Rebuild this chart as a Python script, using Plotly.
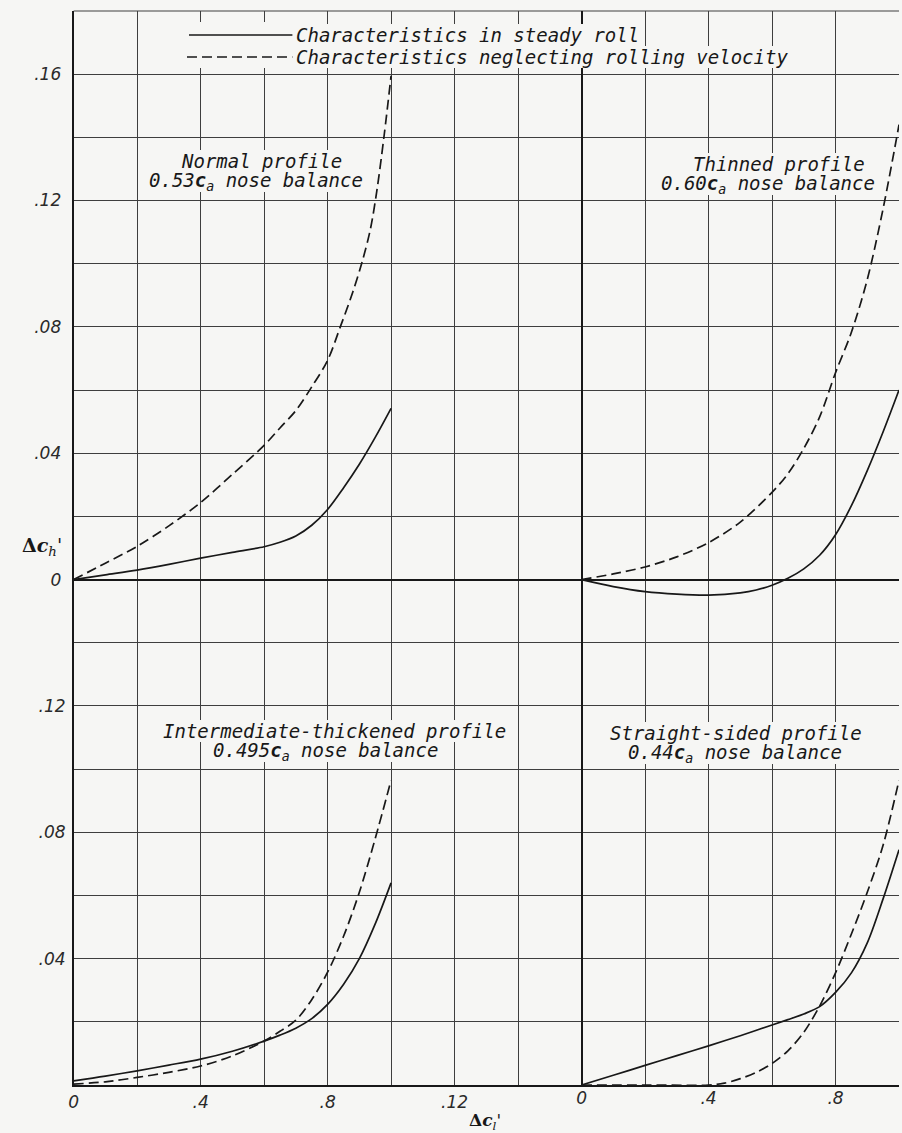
import plotly.graph_objects as go

# ---------------- data ----------------
# Normal profile, 0.53ca nose balance (upper left)
normal_roll_x = [0, 0.01, 0.02, 0.03, 0.04, 0.05, 0.06, 0.065, 0.07, 0.075, 0.08, 0.085, 0.09, 0.095, 0.10]
normal_roll_y = [0, 0.0015, 0.0030, 0.0048, 0.0068, 0.0086, 0.0104, 0.0118, 0.0138, 0.0172, 0.0222, 0.0290, 0.0365, 0.0450, 0.0542]
normal_norate_x = [0, 0.01, 0.02, 0.03, 0.04, 0.05, 0.06, 0.065, 0.07, 0.075, 0.08, 0.084, 0.088, 0.091, 0.0935, 0.0955, 0.0978, 0.10]
normal_norate_y = [0, 0.0052, 0.0105, 0.0170, 0.0244, 0.0333, 0.0425, 0.0480, 0.0535, 0.0610, 0.0694, 0.0800, 0.0912, 0.1010, 0.1110, 0.1230, 0.1405, 0.1595]

# Thinned profile, 0.60ca nose balance (upper right)
thinned_roll_x = [0, 0.01, 0.02, 0.03, 0.04, 0.05, 0.055, 0.06, 0.065, 0.07, 0.075, 0.08, 0.085, 0.09, 0.095, 0.10]
thinned_roll_y = [0, -0.0022, -0.0038, -0.0046, -0.0049, -0.0042, -0.0033, -0.0018, 0.0004, 0.0034, 0.0077, 0.0142, 0.0234, 0.0345, 0.0468, 0.0600]
thinned_norate_x = [0, 0.01, 0.02, 0.03, 0.04, 0.05, 0.06, 0.065, 0.07, 0.075, 0.08, 0.085, 0.09, 0.095, 0.10]
thinned_norate_y = [0, 0.0018, 0.0040, 0.0072, 0.0117, 0.0182, 0.0276, 0.0335, 0.0415, 0.0515, 0.0655, 0.0783, 0.0950, 0.1175, 0.1440]

# Intermediate-thickened profile, 0.495ca nose balance (lower left)
inter_roll_x = [0, 0.01, 0.02, 0.03, 0.04, 0.05, 0.06, 0.065, 0.07, 0.075, 0.08, 0.085, 0.09, 0.095, 0.10]
inter_roll_y = [0.0013, 0.0028, 0.0045, 0.0063, 0.0082, 0.0107, 0.0139, 0.0158, 0.0180, 0.0210, 0.0255, 0.0318, 0.0400, 0.0510, 0.0640]
inter_norate_x = [0, 0.01, 0.02, 0.03, 0.04, 0.05, 0.06, 0.065, 0.07, 0.075, 0.08, 0.085, 0.09, 0.095, 0.10]
inter_norate_y = [0.0003, 0.0010, 0.0024, 0.0040, 0.0060, 0.0092, 0.0139, 0.0170, 0.0205, 0.0270, 0.0357, 0.0470, 0.0610, 0.0780, 0.0965]

# Straight-sided profile, 0.44ca nose balance (lower right)
straight_roll_x = [0, 0.01, 0.02, 0.03, 0.04, 0.05, 0.06, 0.065, 0.07, 0.075, 0.08, 0.085, 0.09, 0.095, 0.10]
straight_roll_y = [0, 0.0031, 0.0062, 0.0093, 0.0124, 0.0156, 0.0190, 0.0207, 0.0225, 0.0248, 0.0293, 0.0355, 0.0450, 0.0590, 0.0745]
straight_norate_x = [0, 0.02, 0.04, 0.045, 0.05, 0.055, 0.06, 0.065, 0.07, 0.075, 0.08, 0.085, 0.09, 0.095, 0.10]
straight_norate_y = [0, 0.0, 0.0, 0.0006, 0.0020, 0.0040, 0.0068, 0.0108, 0.0167, 0.0250, 0.0355, 0.0478, 0.0610, 0.0760, 0.0965]

# tick labels (as printed on the figure)
x_left_ticks = [0, 0.04, 0.08, 0.12]
x_left_text = ["0", ".4", ".8", ".12"]
x_right_ticks = [0, 0.04, 0.08]
x_right_text = ["0", ".4", ".8"]
y_top_ticks = [0, 0.04, 0.08, 0.12, 0.16]
y_top_text = ["0", ".04", ".08", ".12", ".16"]
y_bot_ticks = [0.04, 0.08, 0.12]
y_bot_text = [".04", ".08", ".12"]

legend_labels = ["Characteristics in steady roll",
                 "Characteristics neglecting rolling velocity"]

# ---------------- styling ----------------
W, H = 902, 1133
PAPER = "#f6f6f4"
INK = "#181818"
GRID = "#3e3e3e"
FONT = "DejaVu Sans Mono"
DASH = "10px,5px"
LW = 1.7
CHAR_W = 11.44  # approx advance of the 19px mono font

XL, XR = 69, 899
YB, YT = 1085, 11
xdom = [XL / W, XR / W]
ydom = [(H - YB) / H, (H - YT) / H]


def px(p):
    return p / W


def py(p):
    return 1 - p / H


fig = go.Figure()


def curve(x, y, xa, ya, dashed):
    fig.add_trace(go.Scatter(
        x=x, y=y, xaxis=xa, yaxis=ya, mode="lines", showlegend=False,
        hoverinfo="skip",
        line=dict(color=INK, width=LW, shape="spline", smoothing=0.9,
                  dash=DASH if dashed else "solid")))


curve(normal_roll_x, normal_roll_y, "x", "y", False)
curve(normal_norate_x, normal_norate_y, "x", "y", True)
curve(thinned_roll_x, thinned_roll_y, "x2", "y", False)
curve(thinned_norate_x, thinned_norate_y, "x2", "y", True)
curve(inter_roll_x, inter_roll_y, "x", "y2", False)
curve(inter_norate_x, inter_norate_y, "x", "y2", True)
curve(straight_roll_x, straight_roll_y, "x2", "y2", False)
curve(straight_norate_x, straight_norate_y, "x2", "y2", True)

tickfont = dict(family="DejaVu Sans", size=17, color="#2a2a2a", style="italic")

fig.update_layout(
    width=W, height=H,
    margin=dict(l=0, r=0, t=0, b=0),
    paper_bgcolor=PAPER, plot_bgcolor=PAPER,
    showlegend=False,
    xaxis=dict(domain=xdom, range=[0, 0.26], anchor="y",
               tickmode="array", tickvals=x_left_ticks, ticktext=x_left_text,
               tickfont=tickfont, ticks="", ticklabelstandoff=1,
               showgrid=True, gridcolor=GRID, gridwidth=1,
               minor=dict(dtick=0.02, tick0=0, showgrid=True,
                          gridcolor=GRID, gridwidth=1),
               zeroline=True, zerolinecolor=INK, zerolinewidth=2,
               showline=True, linecolor=INK, linewidth=2),
    xaxis2=dict(overlaying="x", range=[-0.16, 0.10], anchor="y", side="bottom",
                tickmode="array", tickvals=x_right_ticks, ticktext=x_right_text,
                tickfont=tickfont, ticks="", ticklabelstandoff=1,
                showgrid=False, zeroline=True, zerolinecolor=INK,
                zerolinewidth=2, showline=False),
    yaxis=dict(domain=ydom, range=[-0.16, 0.18], anchor="x",
               tickmode="array", tickvals=y_top_ticks, ticktext=y_top_text,
               tickfont=tickfont, ticks="", ticklabelstandoff=7,
               showgrid=True, gridcolor=GRID, gridwidth=1,
               minor=dict(dtick=0.02, tick0=0, showgrid=True,
                          gridcolor=GRID, gridwidth=1),
               zeroline=True, zerolinecolor=INK, zerolinewidth=2,
               showline=True, linecolor=INK, linewidth=2),
    yaxis2=dict(overlaying="y", range=[0, 0.34], anchor="x", side="left",
                tickmode="array", tickvals=y_bot_ticks, ticktext=y_bot_text,
                tickfont=tickfont, ticks="", ticklabelstandoff=7,
                showgrid=False, zeroline=False, showline=False),
)

shapes = []


def knockout(x0, x1, y0, y1):
    shapes.append(dict(type="rect", xref="paper", yref="paper", layer="above",
                       x0=px(x0), x1=px(x1), y0=py(y0), y1=py(y1),
                       fillcolor=PAPER, line=dict(width=0)))


# knock-out box behind legend samples and texts
knockout(180, 292, 22, 68)
knockout(292, 640, 24, 46)
knockout(292, 786, 46, 68)
# legend samples
shapes.append(dict(type="line", xref="paper", yref="paper", layer="above",
                   x0=px(185), x1=px(289), y0=py(35), y1=py(35),
                   line=dict(color=INK, width=LW)))
shapes.append(dict(type="line", xref="paper", yref="paper", layer="above",
                   x0=px(183), x1=px(289), y0=py(57), y1=py(57),
                   line=dict(color=INK, width=LW, dash=DASH)))
# top frame
shapes.append(dict(type="line", xref="paper", yref="paper", layer="below",
                   x0=px(XL), x1=px(XR), y0=py(YT), y1=py(YT),
                   line=dict(color=GRID, width=1)))

txtfont = dict(family=FONT, size=19, color=INK, style="italic")


def label(text, cx, cy, nchar, anchor="center"):
    fig.add_annotation(xref="paper", yref="paper", x=px(cx), y=py(cy),
                       text=text, showarrow=False, xanchor=anchor,
                       yanchor="middle", font=txtfont)
    if anchor == "center":
        w = nchar * CHAR_W
        knockout(cx - w / 2 - 4, cx + w / 2 + 4, cy - 11, cy + 11)


label(legend_labels[0], 291, 35, 30, "left")
label(legend_labels[1], 291, 57, 43, "left")

label("Normal profile", 258, 161, 14)
label("0.53<b>c</b><sub>a</sub> nose balance", 252, 181, 18.6)
label("Thinned profile", 778, 164, 15)
label("0.60<b>c</b><sub>a</sub> nose balance", 767, 184, 18.6)
label("Intermediate-thickened profile", 331, 731, 30)
label("0.495<b>c</b><sub>a</sub> nose balance", 322, 751, 19.6)
label("Straight-sided profile", 735, 733, 22)
label("0.44<b>c</b><sub>a</sub> nose balance", 734, 753, 18.6)

fig.update_layout(shapes=shapes)

# axis titles
fig.add_annotation(xref="paper", yref="paper", x=px(37), y=py(546),
                   text="<b>Δ</b><b><i>c</i></b><sub><i>h</i></sub>'",
                   showarrow=False, xanchor="center", yanchor="middle",
                   font=dict(family="DejaVu Serif", size=19, color=INK))
fig.add_annotation(xref="paper", yref="paper", x=px(483), y=py(1121),
                   text="<b>Δ</b><b><i>c</i></b><sub><i>l</i></sub>'",
                   showarrow=False, xanchor="center", yanchor="middle",
                   font=dict(family="DejaVu Serif", size=17, color=INK))

fig.write_html("out.html")
